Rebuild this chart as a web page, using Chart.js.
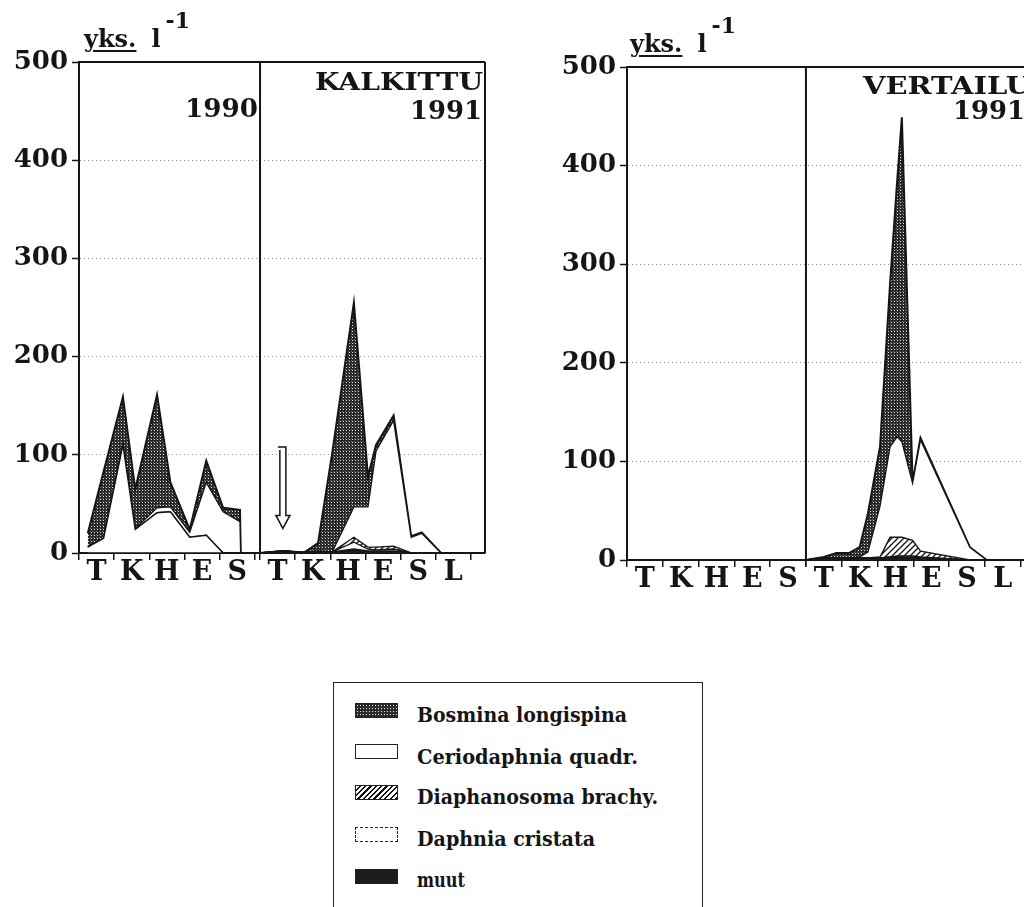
<!DOCTYPE html>
<html lang="fi">
<head>
<meta charset="utf-8">
<title>Vesikirput 1990-1991</title>
<script src="https://cdn.jsdelivr.net/npm/chart.js@4.4.1/dist/chart.umd.min.js"></script>
<style>
  html, body { margin: 0; padding: 0; background: #fff; }
  #page { position: relative; width: 1024px; height: 907px; overflow: hidden; }
  canvas { position: absolute; top: 0; }
  #left { left: 0; }
  #right { left: 530px; }
  .txt { position: absolute; font-family: "DejaVu Serif", serif; font-weight: bold; color: #151515; white-space: nowrap; line-height: 1; transform-origin: left top; }
  .unit { font-size: 24px; }
  .unit u { text-decoration-thickness: 2px; text-underline-offset: 3px; }
  .unit .l { margin-left: 15px; }
  .unit sup { font-size: 22px; position: relative; top: -19px; vertical-align: baseline; margin-left: 5px; }
  .head { font-size: 25px; }
  .year { font-size: 26px; }
  #legend { position: absolute; left: 333px; top: 682px; width: 368px; height: 260px; border: 1.5px solid #222; }
  .sw { position: absolute; left: 355px; width: 43px; height: 15px; box-sizing: border-box; border: 1.5px solid #222; background: #fff; }
  .lab { font-size: 20px; left: 417px; }
</style>
</head>
<body>
<div id="page">
  <canvas id="left" width="500" height="600"></canvas>
  <canvas id="right" width="520" height="610"></canvas>

  <div class="txt unit" style="left:84px; top:27px;"><u>yks.</u><span class="l">l</span><sup>-1</sup></div>
  <div class="txt year" id="t1990" style="left:185px; top:95px;">1990</div>
  <div class="txt head" id="tkalk" style="left:315px; top:69px;">KALKITTU</div>
  <div class="txt year" id="t1991a" style="left:410px; top:97px;">1991</div>

  <div class="txt unit" style="left:630px; top:32px;"><u>yks.</u><span class="l">l</span><sup>-1</sup></div>
  <div class="txt head" id="tvert" style="left:863px; top:73px;">VERTAILU</div>
  <div class="txt year" id="t1991b" style="left:953px; top:97px;">1991</div>

  <div id="legend"></div>
  <div class="sw" id="sw0" style="top:703px;"></div>
  <div class="sw" id="sw1" style="top:744px;"></div>
  <div class="sw" id="sw2" style="top:785px;"></div>
  <div class="sw" id="sw3" style="top:827px;"></div>
  <div class="sw" id="sw4" style="top:869px; background:#1c1c1c;"></div>
  <div class="txt lab" id="lab0" style="top:705px;">Bosmina longispina</div>
  <div class="txt lab" id="lab1" style="top:747px;">Ceriodaphnia quadr.</div>
  <div class="txt lab" id="lab2" style="top:787px;">Diaphanosoma brachy.</div>
  <div class="txt lab" id="lab3" style="top:829px;">Daphnia cristata</div>
  <div class="txt lab" id="lab4" style="top:870px;">muut</div>
</div>

<script>
// kuukaudet: T = touko, K = kesä, H = heinä, E = elo, S = syys, L = loka
const months1990 = ['T', 'K', 'H', 'E', 'S'];
const months1991 = ['T', 'K', 'H', 'E', 'S', 'L'];

// x = kuukautta toukokuun 1990 alusta (kuvan akselilla)
// KALKITTU, 1990
const kalkX90      = [0.25, 0.7, 1.25, 1.6, 2.22, 2.6, 3.15, 3.62, 4.1, 4.58, 4.6];
const kalkMuut90   = [0, 0, 0, 0, 0, 0, 0, 0, 0, 0, 0];
const kalkDaph90   = [6, 15, 110, 24, 41, 42, 16, 18, 0, 0, 0];
const kalkDiaph90  = [0, 0, 0, 0, 0, 0, 0, 0, 0, 0, 0];
const kalkCerio90  = [0, 0, 2, 1, 5, 5, 5, 54, 42, 32, 0];
const kalkBos90    = [14, 68, 47, 40, 115, 25, 3, 22, 4, 12, 0];

// KALKITTU, 1991
const kalkX91      = [5.15, 5.8, 6.4, 6.8, 7.2, 7.82, 8.22, 8.45, 8.95, 9.45, 9.75, 10.3];
const kalkMuut91   = [0, 2, 0.5, 1, 1, 4, 2, 2, 2, 0, 0, 0];
const kalkDaph91   = [0, 0, 0, 0, 0, 7, 2, 1, 2, 0, 0, 0];
const kalkDiaph91  = [0, 0, 0, 0, 0, 5, 2, 3, 3, 0, 0, 0];
const kalkCerio91  = [0, 0, 0, 1, 0, 31, 41, 98, 128, 16, 20, 0];
const kalkBos91    = [0, 0, 0, 8, 100, 208, 31, 6, 5, 1, 1, 0];

// VERTAILU, 1991
const vertX91      = [5.0, 5.5, 5.85, 6.2, 6.5, 6.73, 7.07, 7.35, 7.55, 7.68, 7.98, 8.2, 9.58, 10.05];
const vertMuut91   = [0, 2, 1, 1, 2, 2, 2, 3, 3, 3, 3, 2, 0, 0];
const vertDaph91   = [0, 0, 0, 0, 0, 0, 0, 0, 1, 1, 1, 1, 0, 0];
const vertDiaph91  = [0, 0, 0, 0, 0, 0, 1, 20, 19, 19, 16, 6, 0, 0];
const vertCerio91  = [0, 0, 1, 1, 1, 6, 52, 92, 102, 97, 58, 113, 13, 0];
const vertBos91    = [0, 1, 5, 5, 10, 39, 60, 165, 260, 329, 1, 2, 0, 0];

const yTicks = [0, 100, 200, 300, 400, 500];

// pinoamisjärjestys alhaalta ylös
const speciesNames = ['muut', 'Daphnia cristata', 'Diaphanosoma brachy.', 'Ceriodaphnia quadr.', 'Bosmina longispina'];

const INK = '#151515';
const FONT = 'DejaVu Serif';

// kuviot
function dotPattern() {
  const c = document.createElement('canvas');
  c.width = 3; c.height = 3;
  const g = c.getContext('2d');
  g.fillStyle = '#262626'; g.fillRect(0, 0, 3, 3);
  g.fillStyle = '#e8e8e8'; g.fillRect(1, 1, 1, 1);
  g.fillStyle = '#6a6a6a'; g.fillRect(0, 0, 1, 1);
  return g.createPattern(c, 'repeat');
}
function hatchPattern() {
  const c = document.createElement('canvas');
  c.width = 6; c.height = 6;
  const g = c.getContext('2d');
  g.fillStyle = '#fff'; g.fillRect(0, 0, 6, 6);
  g.strokeStyle = '#111'; g.lineWidth = 1.3;
  g.beginPath();
  g.moveTo(-1, 7); g.lineTo(7, -1);
  g.moveTo(-1, 1); g.lineTo(1, -1);
  g.moveTo(5, 7); g.lineTo(7, 5);
  g.stroke();
  return g.createPattern(c, 'repeat');
}
const fills = ['#1c1c1c', '#ffffff', hatchPattern(), '#ffffff', dotPattern()];

function cumulative(layers) {
  let run = layers[0].map(() => 0);
  return layers.map(arr => {
    run = run.map((v, i) => v + arr[i]);
    return run.slice();
  });
}

function panel(xs, layers) {
  return cumulative(layers).map((ys, k) => ({
    label: speciesNames[k],
    data: xs.map((x, i) => ({ x: x, y: ys[i] })),
    fill: k === 0 ? 'origin' : '-1',
    backgroundColor: fills[k],
    borderColor: INK,
    borderWidth: k === 4 ? 2 : 1.4,
    pointRadius: 0,
    tension: 0
  }));
}

function monthTicks(starts, names) {
  const vals = [], labels = [];
  starts.forEach((s, k) => {
    names[k].forEach((m, i) => {
      vals.push(s + i); labels.push('');
      vals.push(s + i + 0.5); labels.push(m);
    });
    vals.push(s + names[k].length); labels.push('');
  });
  return { vals, labels };
}

const framePlugin = {
  id: 'frame',
  beforeDatasetsDraw(chart, args, opts) {
    const { ctx, chartArea: a, scales: { x, y } } = chart;
    const top = y.getPixelForValue(500);
    ctx.save();
    ctx.strokeStyle = INK;
    ctx.lineWidth = 2;
    ctx.beginPath();
    ctx.moveTo(a.left, top); ctx.lineTo(a.right, top);
    opts.dividers.forEach(v => {
      const px = x.getPixelForValue(v);
      ctx.moveTo(px, top); ctx.lineTo(px, a.bottom);
    });
    ctx.stroke();
    ctx.restore();
  },
  afterDatasetsDraw(chart, args, opts) {
    if (!opts.arrow) return;
    const { ctx, scales: { x, y } } = chart;
    const ax = x.getPixelForValue(opts.arrow.x);
    const y0 = y.getPixelForValue(opts.arrow.from);
    const y1 = y.getPixelForValue(opts.arrow.to);
    ctx.save();
    ctx.strokeStyle = INK;
    ctx.lineWidth = 1.5;
    ctx.fillStyle = '#fff';
    ctx.beginPath();
    ctx.moveTo(ax - 5, y0);
    ctx.lineTo(ax + 3, y0);
    ctx.lineTo(ax + 3, y1 - 13);
    ctx.lineTo(ax + 7, y1 - 13);
    ctx.lineTo(ax, y1);
    ctx.lineTo(ax - 7, y1 - 13);
    ctx.lineTo(ax - 3, y1 - 13);
    ctx.lineTo(ax - 3, y0 + 3);
    ctx.fill();
    ctx.stroke();
    ctx.restore();
  }
};

function makeChart(id, cfg) {
  const mt = monthTicks(cfg.starts, cfg.names);
  return new Chart(document.getElementById(id), {
    type: 'line',
    data: { datasets: cfg.datasets },
    plugins: [framePlugin],
    options: {
      responsive: false,
      animation: false,
      events: [],
      layout: { padding: { top: cfg.padTop, right: cfg.padRight, left: 0, bottom: 0 } },
      plugins: {
        legend: { display: false },
        tooltip: { enabled: false },
        frame: { dividers: cfg.dividers, arrow: cfg.arrow }
      },
      scales: {
        x: {
          type: 'linear',
          min: 0,
          max: cfg.xMax,
          afterBuildTicks: s => { s.ticks = mt.vals.map(v => ({ value: v })); },
          afterFit: s => { s.height = cfg.xAxisH; },
          ticks: {
            autoSkip: false,
            maxRotation: 0,
            padding: -3,
            color: INK,
            font: { family: FONT, weight: 'bold', size: 27 },
            callback: (v, i) => mt.labels[i]
          },
          grid: {
            drawOnChartArea: false,
            tickLength: 7,
            lineWidth: 1.5,
            tickColor: c => (c.tick && c.tick.label) ? 'rgba(0,0,0,0)' : INK
          },
          border: { color: INK, width: 2 }
        },
        y: {
          min: 0,
          max: 500,
          afterBuildTicks: s => { s.ticks = yTicks.map(v => ({ value: v })); },
          afterFit: s => { s.width = cfg.yAxisW; },
          ticks: {
            padding: 4,
            color: INK,
            font: { family: FONT, weight: 'bold', size: 26 }
          },
          grid: {
            tickLength: 7,
            lineWidth: 1,
            color: c => (c.tick && c.tick.value % 500 === 0) ? 'rgba(0,0,0,0)' : '#8d8d8d',
            tickColor: INK,
            tickWidth: 1.5
          },
          border: { color: INK, width: 2, dash: [1, 3] }
        }
      }
    }
  });
}

makeChart('left', {
  datasets: panel(kalkX90, [kalkMuut90, kalkDaph90, kalkDiaph90, kalkCerio90, kalkBos90])
    .concat(panel(kalkX91, [kalkMuut91, kalkDaph91, kalkDiaph91, kalkCerio91, kalkBos91])),
  starts: [0, 5.15],
  names: [months1990, months1991],
  dividers: [5.15, 11.55],
  xMax: 11.55,
  padTop: 62, padRight: 15, yAxisW: 79, xAxisH: 47,
  arrow: { x: 5.8, from: 108, to: 25 }
});

makeChart('right', {
  datasets: panel(vertX91, [vertMuut91, vertDaph91, vertDiaph91, vertCerio91, vertBos91]),
  starts: [0, 5],
  names: [months1990, months1991],
  dividers: [5, 11.4],
  xMax: 11.4,
  padTop: 67, padRight: 15, yAxisW: 97, xAxisH: 50,
  arrow: null
});

// tekstien leveys kuvan mukaan
function fit(id, w) {
  const el = document.getElementById(id);
  const cur = el.getBoundingClientRect().width;
  el.style.transform = 'scaleX(' + (w / cur).toFixed(3) + ')';
}
fit('t1990', 73); fit('tkalk', 168); fit('t1991a', 72);
fit('tvert', 168); fit('t1991b', 72);
fit('lab0', 210); fit('lab1', 221); fit('lab2', 241); fit('lab3', 178); fit('lab4', 48);

// selitteen kuviot
const sw = document.getElementById('sw0').style;
sw.backgroundColor = '#2a2a2a';
sw.backgroundImage = 'radial-gradient(#e6e6e6 0.8px, transparent 1px)';
sw.backgroundSize = '3px 3px';
document.getElementById('sw2').style.background = 'repeating-linear-gradient(135deg, #fff 0 2.2px, #111 2.2px 3.8px)';
document.getElementById('sw3').style.borderStyle = 'dashed';
</script>
</body>
</html>
